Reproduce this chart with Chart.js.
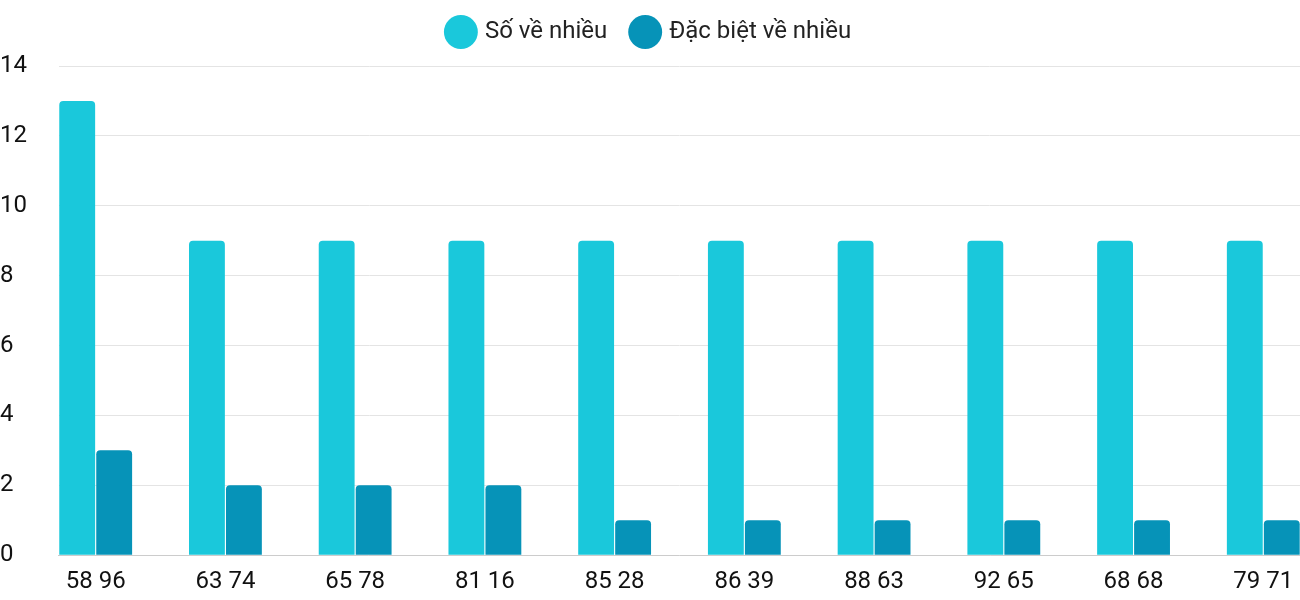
<!DOCTYPE html>
<html><head><meta charset="utf-8">
<script src="https://cdn.jsdelivr.net/npm/chart.js@4"></script>
<style>html,body{margin:0;background:#fff}#w{width:1300px;height:600px}</style>
</head><body><div id="w"><canvas id="c"></canvas></div>
<script>
const categories = ["58 96","63 74","65 78","81 16","85 28","86 39","88 63","92 65","68 68","79 71"];
const soVeNhieu = [13,9,9,9,9,9,9,9,9,9];
const dacBiet = [3,2,2,2,1,1,1,1,1,1];
const yTicks = [0,2,4,6,8,10,12,14];
const pts = a => a.map((v,i)=>({x:i,y:v}));
const legendGap = {id:'legendGap',beforeInit(chart){const f=chart.legend.fit;chart.legend.fit=function(){f.bind(chart.legend)();this.height+=12;};}};
new Chart(document.getElementById('c'),{
  type:'bar',
  plugins:[legendGap],
  data:{datasets:[
    {label:'Số về nhiều',data:pts(soVeNhieu),backgroundColor:'#1AC8DB',borderRadius:4,borderSkipped:'bottom'},
    {label:'Đặc biệt về nhiều',data:pts(dacBiet),backgroundColor:'#0693B8',borderRadius:4,borderSkipped:'bottom'}
  ]},
  options:{
    responsive:true,maintainAspectRatio:false,animation:false,
    categoryPercentage:0.57,barPercentage:0.97,
    layout:{padding:{left:0,right:0,top:-6,bottom:0}},
    plugins:{legend:{labels:{usePointStyle:true,pointStyle:'circle',boxWidth:26,boxHeight:26,padding:26,color:'#222',font:{family:'Roboto',size:24}}},tooltip:{enabled:false}},
    scales:{
      x:{type:'linear',min:-0.283,max:9.283,offset:false,
        afterBuildTicks:s=>{s.ticks=categories.map((_,i)=>({value:i}));},
        ticks:{callback:v=>categories[v]??'',color:'#111',font:{family:'Roboto',size:24},padding:4,autoSkip:false,maxRotation:0},
        grid:{display:false},border:{color:'#ccc'}},
      y:{min:0,max:14,
        afterBuildTicks:s=>{s.ticks=yTicks.map(v=>({value:v}));},
        ticks:{color:'#111',font:{family:'Roboto',size:24},padding:16,crossAlign:'far'},
        grid:{color:'#e4e4e4',drawTicks:false},border:{display:false}}
    }
  }
});
</script></body></html>
